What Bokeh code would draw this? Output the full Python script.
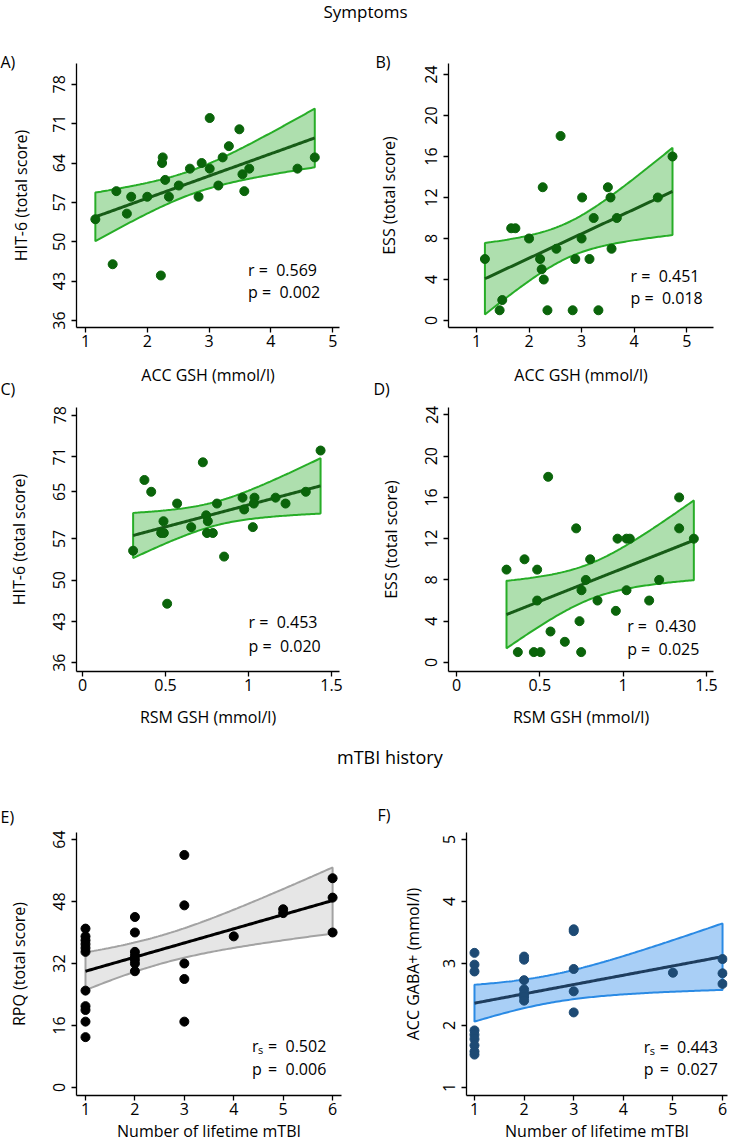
import numpy as np
from bokeh.plotting import figure
from bokeh.layouts import column, row
from bokeh.models import Range1d, FixedTicker, Label, Div, Title
from bokeh.embed import file_html
from bokeh.resources import INLINE

FONT = "Open Sans"

# ---------------- data ----------------
# A) ACC GSH vs HIT-6
a_gsh = [1.16, 1.44, 1.50, 1.67, 1.74, 2.00, 2.22, 2.25, 2.24, 2.29, 2.35, 2.51, 2.69,
         2.83, 2.88, 3.01, 3.01, 3.15, 3.22, 3.32, 3.49, 3.54, 3.57, 3.65, 4.43, 4.71]
a_hit = [54, 46, 59, 55, 58, 58, 44, 65, 64, 61, 58, 60, 63,
         58, 64, 72, 63, 60, 65, 67, 70, 62, 59, 63, 63, 65]
# B) ACC GSH vs ESS
b_gsh = [1.16, 1.44, 1.49, 1.66, 1.74, 2.00, 2.21, 2.24, 2.26, 2.28, 2.35, 2.52, 2.60,
         2.83, 2.88, 3.00, 3.01, 3.15, 3.23, 3.32, 3.50, 3.55, 3.57, 3.67, 4.45, 4.73]
b_ess = [6, 1, 2, 9, 9, 8, 6, 5, 13, 4, 1, 7, 18,
         1, 6, 8, 12, 6, 10, 1, 13, 12, 7, 10, 12, 16]
# C) RSM GSH vs HIT-6
c_gsh = [0.305, 0.373, 0.414, 0.474, 0.490, 0.488, 0.510, 0.570, 0.655, 0.725, 0.745, 0.755, 0.750,
         0.785, 0.810, 0.853, 0.964, 0.974, 1.026, 1.036, 1.032, 1.163, 1.223, 1.345, 1.434]
c_hit = [55, 67, 65, 58, 58, 60, 46, 63, 59, 70, 61, 60, 58,
         58, 63, 54, 64, 62, 59, 64, 63, 64, 63, 65, 72]
# D) RSM GSH vs ESS
d_gsh = [0.300, 0.408, 0.484, 0.484, 0.550, 0.718, 0.802, 0.776, 0.750, 0.846, 0.966, 1.020, 1.040,
         1.020, 0.956, 1.156, 1.216, 1.336, 1.336, 1.424, 0.738, 0.564, 0.650, 0.368, 0.464, 0.504, 0.748]
d_ess = [9, 10, 9, 6, 18, 13, 10, 8, 7, 6, 12, 12, 12,
         7, 5, 6, 8, 16, 13, 12, 4, 3, 2, 1, 1, 1, 1]
# E) number of lifetime mTBI vs RPQ
e_n = [1, 1, 1, 1, 1, 1, 1, 1, 1, 1, 1, 2, 2, 2, 2, 2, 2, 2, 3, 3, 3, 3, 3, 4, 5, 5, 6, 6, 6]
e_rpq = [41, 39, 38, 37, 36, 35, 25, 21, 20, 17, 13, 44, 40, 35, 34, 33, 32, 30,
         60, 47, 32, 28, 17, 39, 46, 45, 54, 49, 40]
# F) number of lifetime mTBI vs ACC GABA+
f_n = [1, 1, 1, 1, 1, 1, 1, 1, 1, 2, 2, 2, 2, 2, 2, 2, 3, 3, 3, 3, 3, 5, 6, 6, 6]
f_gaba = [3.17, 2.98, 2.87, 1.92, 1.85, 1.78, 1.68, 1.58, 1.53, 3.11, 3.06, 2.73, 2.58, 2.51, 2.46, 2.40,
          3.55, 3.52, 2.91, 2.55, 2.21, 2.85, 3.07, 2.84, 2.67]

ticks_hit_a = [36, 43, 50, 57, 64, 71, 78]
ticks_hit_c = [36, 43, 50, 57, 65, 71, 78]
ticks_ess = [0, 4, 8, 12, 16, 20, 24]
ticks_acc = [1, 2, 3, 4, 5]
ticks_rsm = [0, 0.5, 1, 1.5]
ticks_n = [1, 2, 3, 4, 5, 6]
ticks_rpq = [0, 16, 32, 48, 64]
ticks_gaba = [1, 2, 3, 4, 5]


def t_crit(df):
    z = 1.959964
    return (z + (z**3 + z) / (4 * df) + (5 * z**5 + 16 * z**3 + 3 * z) / (96 * df**2)
            + (3 * z**7 + 19 * z**5 + 17 * z**3 - 15 * z) / (384 * df**3))


def fit_band(x, y):
    x = np.asarray(x, float)
    y = np.asarray(y, float)
    n = len(x)
    b, a = np.polyfit(x, y, 1)
    xs = np.linspace(x.min(), x.max(), 120)
    yh = a + b * xs
    res = y - (a + b * x)
    s = np.sqrt((res ** 2).sum() / (n - 2))
    xb = x.mean()
    se = s * np.sqrt(1.0 / n + (xs - xb) ** 2 / ((x - xb) ** 2).sum())
    t = t_crit(n - 2)
    return xs, yh, yh - t * se, yh + t * se


def panel(xv, yv, xr, yr, xt, yt, xlab, ylab, dot, line, fill, edge,
          W, H, bl, br, bt, bb, yls, xls, xover=None):
    p = figure(width=W, height=H, x_range=Range1d(*xr), y_range=Range1d(*yr),
               output_backend="svg", toolbar_location=None,
               min_border_left=bl, min_border_right=br,
               min_border_top=bt, min_border_bottom=bb)
    p.margin = (0, 0, 0, 0)
    p.outline_line_color = None
    p.background_fill_color = "white"
    p.border_fill_color = "white"
    p.xgrid.visible = False
    p.ygrid.visible = False
    p.xaxis.ticker = FixedTicker(ticks=xt)
    p.yaxis.ticker = FixedTicker(ticks=yt)
    if xover:
        p.xaxis.major_label_overrides = xover
    for ax in (p.xaxis[0], p.yaxis[0]):
        ax.axis_line_color = "black"
        ax.axis_line_width = 1.3
        ax.major_tick_line_color = "black"
        ax.major_tick_line_width = 1.3
        ax.major_tick_out = 5
        ax.major_tick_in = 0
        ax.minor_tick_line_color = None
        ax.major_label_text_font = FONT
        ax.major_label_text_font_size = "16px"
        ax.major_label_text_color = "black"
        ax.axis_label_text_font = FONT
        ax.axis_label_text_font_size = "16px"
        ax.axis_label_text_font_style = "normal"
        ax.axis_label_text_color = "black"
    p.xaxis.major_label_standoff = 2
    p.yaxis.major_label_standoff = 6
    p.yaxis.major_label_orientation = "vertical"
    p.xaxis.axis_label = xlab
    p.yaxis.axis_label = ylab
    p.yaxis.axis_label_standoff = yls
    p.xaxis.axis_label_standoff = xls
    xs, yh, lo, hi = fit_band(xv, yv)
    p.patch(np.concatenate([xs, xs[::-1]]), np.concatenate([hi, lo[::-1]]),
            fill_color=fill, fill_alpha=1.0, line_color=edge, line_width=2)
    p.line(xs, yh, line_color=line, line_width=3)
    p.scatter(xv, yv, size=9, fill_color=dot, line_color=dot)
    return p


def letter_above(p, text, offset, standoff):
    t = p.title
    t.text = text
    t.align = "left"
    t.offset = offset
    t.standoff = standoff
    t.vertical_align = "bottom"
    t.text_font = FONT
    t.text_font_size = "16px"
    t.text_font_style = "normal"
    t.text_color = "black"


def letter_below(p, text, offset, standoff):
    t = Title(text=text, align="left", offset=offset, standoff=standoff,
              vertical_align="top", text_font=FONT, text_font_size="16px",
              text_font_style="normal", text_color="black")
    p.add_layout(t, "below")


def stats(p, x, yr, yp, rv, pv, spearman=False):
    kw = dict(text_font=FONT, text_font_size="16px", text_color="black",
              text_baseline="middle", text_align="left")
    if not spearman:
        p.add_layout(Label(x=x, y=yr, text="r = \u00a0" + rv, **kw))
        p.add_layout(Label(x=x, y=yp, text="p = \u00a0" + pv, **kw))
    else:
        p.add_layout(Label(x=x, y=yr, text="r", **kw))
        kws = dict(kw)
        kws["text_font_size"] = "11px"
        p.add_layout(Label(x=x, y=yr, x_offset=6, y_offset=-3, text="s", **kws))
        p.add_layout(Label(x=x, y=yr, x_offset=16, text="= \u00a0" + rv, **kw))
        p.add_layout(Label(x=x, y=yp, text="p", **kw))
        p.add_layout(Label(x=x, y=yp, x_offset=16, text="= \u00a0" + pv, **kw))


GREEN = dict(dot="#0a640a", line="#175c17", fill="#aedfae", edge="#27ad27")
GREY = dict(dot="black", line="black", fill="#e6e6e6", edge="#a3a3a3")
BLUE = dict(dot="#1d4a74", line="#1e3d5e", fill="#a9cff6", edge="#2a8ae4")
rsm_over = {0: "0", 0.5: "0.5", 1: "1", 1.5: "1.5"}

# Row 1  (page y 24..402, frame 63..327)
pA = panel(a_gsh, a_hit, (0.855, 5.11), (34.75, 81.7), ticks_acc, ticks_hit_a,
           "ACC GSH (mmol/l)", "HIT-6 (total score)", W=365, H=378,
           bl=76, br=26, bt=39, bb=75, yls=19, xls=14, **GREEN)
stats(pA, 3.63, 44.9, 41.0, "0.569", "0.002")
letter_above(pA, "A)", -76, -18)
letter_below(pA, "C)", -76, -22)

pB = panel(b_gsh, b_ess, (0.467, 5.51), (-0.68, 25.07), ticks_acc, ticks_ess,
           "ACC GSH (mmol/l)", "ESS (total score)", W=366, H=378,
           bl=83, br=18, bt=39, bb=75, yls=23, xls=14, **GREEN)
stats(pB, 3.93, 4.39, 2.24, "0.451", "0.018")
letter_above(pB, "B)", -73, -18)
letter_below(pB, "D)", -75, -22)

# Row 2  (page y 402..735, frame 407..671)
pC = panel(c_gsh, c_hit, (-0.036, 1.548), (34.5, 79.3), ticks_rsm, ticks_hit_c,
           "RSM GSH (mmol/l)", "HIT-6 (total score)", W=365, H=333,
           bl=76, br=26, bt=5, bb=64, yls=21, xls=12, xover=rsm_over, **GREEN)
stats(pC, 1.0, 42.9, 38.9, "0.453", "0.020")

pD = panel(d_gsh, d_ess, (-0.048, 1.542), (-0.88, 24.72), ticks_rsm, ticks_ess,
           "RSM GSH (mmol/l)", "ESS (total score)", W=366, H=333,
           bl=83, br=18, bt=5, bb=64, yls=21, xls=12, xover=rsm_over, **GREEN)
stats(pD, 1.024, 3.58, 1.32, "0.430", "0.025")

# Row 3  (page y 780..1145, frame 832..1095)
pE = panel(e_n, e_rpq, (0.818, 6.18), (-2.06, 65.8), ticks_n, ticks_rpq,
           "Number of lifetime mTBI", "RPQ (total score)", W=365, H=365,
           bl=76, br=24, bt=52, bb=50, yls=21, xls=2, **GREY)
stats(pE, 4.37, 10.6, 4.8, "0.502", "0.006", spearman=True)
letter_above(pE, "E)", -76, 10)

pF = panel(f_n, f_gaba, (0.839, 6.10), (0.871, 5.11), ticks_n, ticks_gaba,
           "Number of lifetime mTBI", "ACC GABA+ (mmol/l)", W=366, H=365,
           bl=101, br=4, bt=52, bb=50, yls=17, xls=2, **BLUE)
stats(pF, 4.41, 1.65, 1.30, "0.443", "0.027", spearman=True)
letter_above(pF, "F)", -89, 14)

head_style = "font-family:'Open Sans';font-size:17px;line-height:24px;color:black;white-space:nowrap;"
d1 = Div(text=f'<div style="{head_style}text-align:center;width:731px;">Symptoms</div>',
         width=731, height=24, margin=(0, 0, 0, 0))
d2 = Div(text=f'<div style="{head_style}padding-left:337px;padding-top:10px;font-size:18px;">mTBI history</div>',
         width=731, height=45, margin=(0, 0, 0, 0))

layout = column(d1, row(pA, pB), row(pC, pD), d2, row(pE, pF))
open("out.html", "w").write(file_html(layout, INLINE))
